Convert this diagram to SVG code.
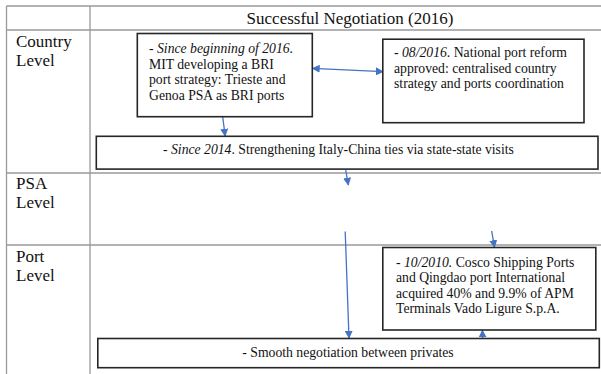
<svg xmlns="http://www.w3.org/2000/svg" width="601" height="374" viewBox="0 0 601 374">
  <style>
    .grid { stroke: #9a9a9a; stroke-width: 1.3; fill: none; }
    .box { fill: #ffffff; stroke: #262626; stroke-width: 1.6; }
    .lbl { font-family: "Liberation Serif", "Times New Roman", serif; font-size: 17px; fill: #111; }
    .txt { font-family: "Liberation Serif", "Times New Roman", serif; font-size: 13.7px; fill: #111; }
    .conn { stroke: #4472c4; stroke-width: 1.3; fill: none; }
  </style>
  <defs>
    <marker id="arrow" viewBox="0 0 10 10" refX="9" refY="5" markerWidth="8" markerHeight="8" markerUnits="userSpaceOnUse" orient="auto-start-reverse">
      <path d="M0,0 L10,5 L0,10 z" fill="#4472c4"/>
    </marker>
  </defs>

  <rect width="601" height="374" fill="#ffffff"/>

  <!-- table grid -->
  <g id="table">
    <line class="grid" x1="6.5" y1="6" x2="601" y2="6"/>
    <line class="grid" x1="6.5" y1="30" x2="601" y2="30"/>
    <line class="grid" x1="6.5" y1="173" x2="601" y2="173"/>
    <line class="grid" x1="6.5" y1="245" x2="601" y2="245"/>
    <line class="grid" x1="6.5" y1="6" x2="6.5" y2="374"/>
    <line class="grid" x1="90" y1="6" x2="90" y2="374"/>
    <text class="lbl" x="350" y="24" text-anchor="middle">Successful Negotiation (2016)</text>
    <text class="lbl" x="16" y="47">Country</text>
    <text class="lbl" x="16" y="65.5">Level</text>
    <text class="lbl" x="16" y="188.5">PSA</text>
    <text class="lbl" x="16" y="208">Level</text>
    <text class="lbl" x="16" y="262">Port</text>
    <text class="lbl" x="16" y="280.5">Level</text>
  </g>

  <!-- connectors -->
  <g id="connectors">
    <line class="conn" x1="312.5" y1="68.3" x2="383" y2="71.7" marker-start="url(#arrow)" marker-end="url(#arrow)"/>
    <line class="conn" x1="222.7" y1="117" x2="225.2" y2="136" marker-end="url(#arrow)"/>
    <line class="conn" x1="345.7" y1="170" x2="348.3" y2="185" marker-end="url(#arrow)"/>
    <line class="conn" x1="345.2" y1="231.5" x2="349" y2="338" marker-end="url(#arrow)"/>
    <line class="conn" x1="491.7" y1="231" x2="494.5" y2="247.3" marker-end="url(#arrow)"/>
    <line class="conn" x1="482.6" y1="338.5" x2="482.4" y2="330.2" marker-end="url(#arrow)"/>
  </g>

  <!-- nodes -->
  <g id="mit-strategy">
    <rect class="box" x="137.3" y="33.5" width="175" height="83.2"/>
    <text class="txt" x="149" y="53.3"><tspan font-style="italic">- Since beginning of 2016.</tspan></text>
    <text class="txt" x="149" y="68.8">MIT developing a BRI</text>
    <text class="txt" x="149" y="84.2">port strategy: Trieste and</text>
    <text class="txt" x="149" y="99.5">Genoa PSA as BRI ports</text>
  </g>

  <g id="port-reform">
    <rect class="box" x="382.8" y="39.2" width="201.2" height="83.5"/>
    <text class="txt" x="394" y="57.3">- <tspan font-style="italic">08/2016</tspan>. National port reform</text>
    <text class="txt" x="394" y="72.8">approved: centralised country</text>
    <text class="txt" x="394" y="88.3">strategy and ports coordination</text>
  </g>

  <g id="italy-china-ties">
    <rect class="box" x="96.3" y="136.3" width="501.7" height="32.8"/>
    <text class="txt" x="163" y="154.3">- <tspan font-style="italic">Since 2014</tspan>. Strengthening Italy-China ties via state-state visits</text>
  </g>

  <g id="cosco-vado">
    <rect class="box" x="382.8" y="247.5" width="213" height="82.5"/>
    <text class="txt" x="396" y="266.7">- <tspan font-style="italic">10/2010.</tspan> Cosco Shipping Ports</text>
    <text class="txt" x="396" y="282.2">and Qingdao port International</text>
    <text class="txt" x="396" y="297.5">acquired 40% and 9.9% of APM</text>
    <text class="txt" x="396" y="312.8">Terminals Vado Ligure S.p.A.</text>
  </g>

  <g id="private-negotiation">
    <rect class="box" x="97.8" y="338.5" width="501.5" height="29.2"/>
    <text class="txt" x="348" y="356.7" text-anchor="middle">- Smooth negotiation between privates</text>
  </g>
</svg>
